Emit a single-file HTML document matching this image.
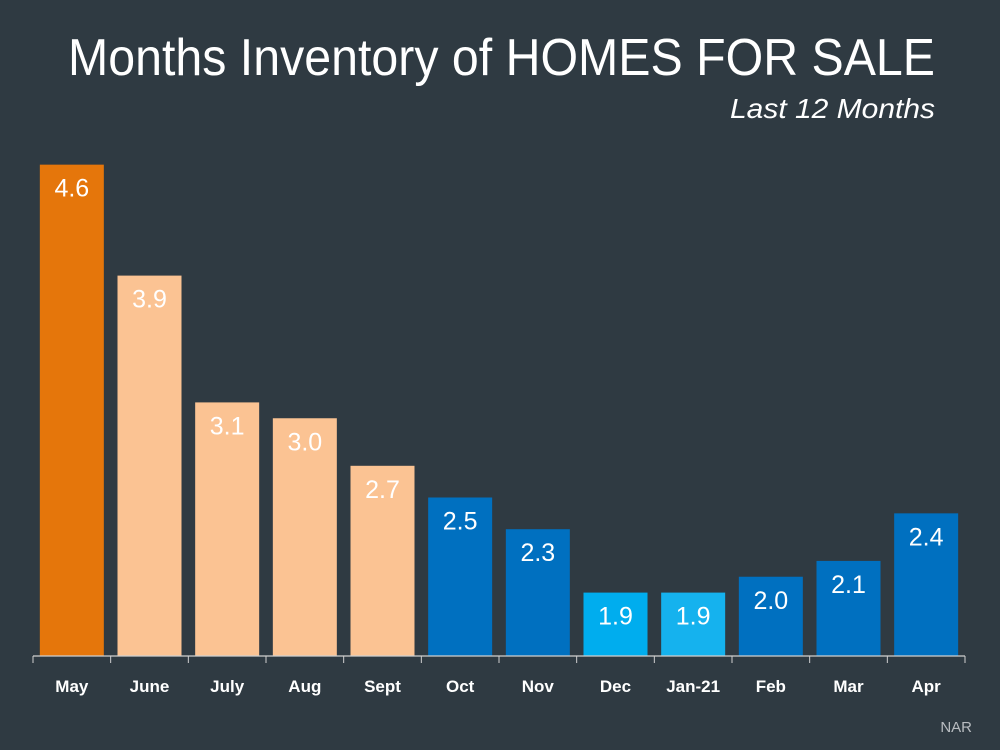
<!DOCTYPE html>
<html><head><meta charset="utf-8"><style>
html,body{margin:0;padding:0;background:#2F3A42;}
svg{display:block;}
</style></head><body>
<svg id="chart" width="1000" height="750" xmlns="http://www.w3.org/2000/svg" font-family="Liberation Sans, sans-serif">
<rect x="0" y="0" width="1000" height="750" fill="#2F3A42"/>
<text x="68" y="75" font-size="52" fill="#ffffff" textLength="867" lengthAdjust="spacingAndGlyphs">Months Inventory of HOMES FOR SALE</text>
<text x="730" y="118" font-size="28" font-style="italic" fill="#ffffff" textLength="205" lengthAdjust="spacingAndGlyphs">Last 12 Months</text>
<text x="972" y="732" text-anchor="end" font-size="15" fill="#b8bcc0">NAR</text>
<g id="bars"></g>
<g id="axis"></g>
</svg>
<script>
const categories = ["May","June","July","Aug","Sept","Oct","Nov","Dec","Jan-21","Feb","Mar","Apr"];
const values = [4.6,3.9,3.1,3.0,2.7,2.5,2.3,1.9,1.9,2.0,2.1,2.4];
const valueLabels = ["4.6","3.9","3.1","3.0","2.7","2.5","2.3","1.9","1.9","2.0","2.1","2.4"];
const colors = ["#E5760B","#FBC393","#FBC393","#FBC393","#FBC393","#0070C0","#0070C0","#00ADEE","#15B2EE","#0070C0","#0070C0","#0070C0"];

const ns = "http://www.w3.org/2000/svg";
const x0 = 33, x1 = 965, baseY = 656;
const yMin = 1.5, pxPerUnit = 158.5;
const slot = (x1 - x0) / categories.length;
const barW = 64;
const xPos = i => x0 + slot * i + (slot - barW) / 2;
const yPos = v => baseY - (v - yMin) * pxPerUnit;

const bars = document.getElementById('bars');
const axis = document.getElementById('axis');
categories.forEach((c, i) => {
  const r = document.createElementNS(ns, 'rect');
  
  
  r.setAttribute('x', xPos(i));
  r.setAttribute('y', yPos(values[i]));
  r.setAttribute('width', barW);
  r.setAttribute('height', baseY - yPos(values[i]));
  r.setAttribute('fill', colors[i]);
  bars.appendChild(r);
  const t = document.createElementNS(ns, 'text');
  
  
  t.setAttribute('x', xPos(i) + barW / 2);
  t.setAttribute('y', yPos(values[i]) + 32);
  t.setAttribute('text-anchor', 'middle');
  t.setAttribute('font-size', '25');
  t.setAttribute('fill', '#ffffff');
  t.textContent = valueLabels[i];
  bars.appendChild(t);
  const l = document.createElementNS(ns, 'text');
  
  
  l.setAttribute('x', x0 + slot * i + slot / 2);
  l.setAttribute('y', 692);
  l.setAttribute('text-anchor', 'middle');
  l.setAttribute('font-size', '17');
  l.setAttribute('font-weight', 'bold');
  l.setAttribute('fill', '#ffffff');
  l.textContent = c;
  axis.appendChild(l);
});
for (let i = 0; i <= categories.length; i++) {
  const tk = document.createElementNS(ns, 'line');
  
  
  tk.setAttribute('x1', x0 + slot * i); tk.setAttribute('x2', x0 + slot * i);
  tk.setAttribute('y1', baseY); tk.setAttribute('y2', baseY + 7);
  tk.setAttribute('stroke', '#d0d0d0'); tk.setAttribute('stroke-width', '1');
  axis.appendChild(tk);
}
const ax = document.createElementNS(ns, 'line');


ax.setAttribute('x1', x0); ax.setAttribute('x2', x1);
ax.setAttribute('y1', baseY); ax.setAttribute('y2', baseY);
ax.setAttribute('stroke', '#d0d0d0'); ax.setAttribute('stroke-width', '1.2');
axis.appendChild(ax);
</script>
</body></html>
